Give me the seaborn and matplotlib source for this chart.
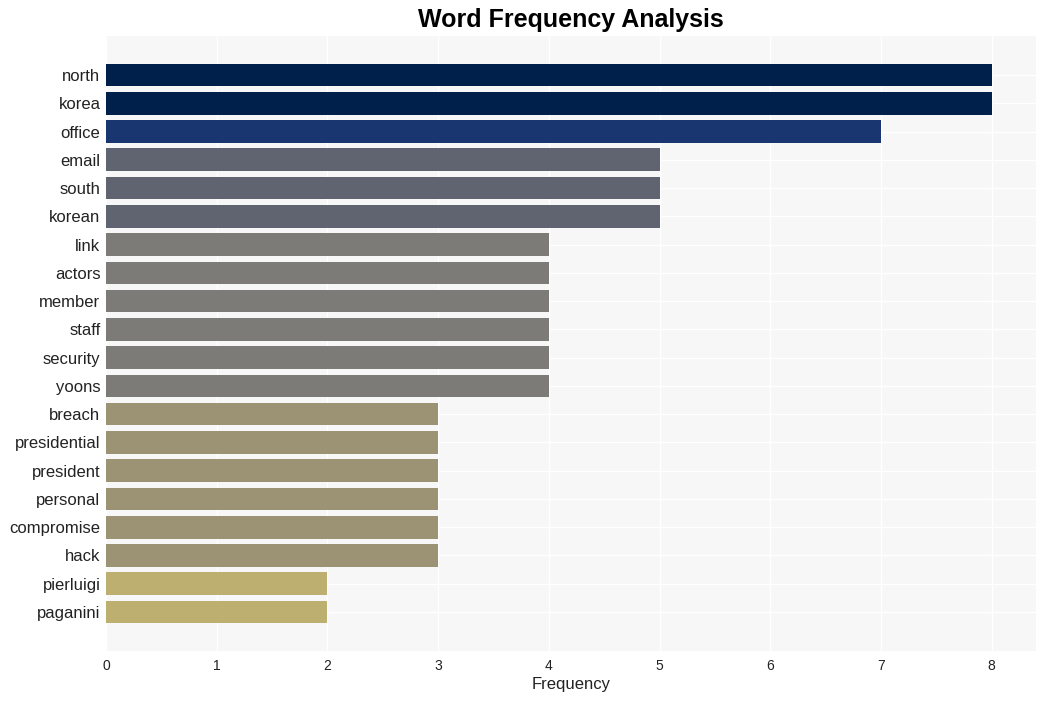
import matplotlib
matplotlib.use("Agg")
import matplotlib.pyplot as plt
import seaborn as sns
import pandas as pd

words = ["north", "korea", "office", "email", "south", "korean", "link", "actors",
         "member", "staff", "security", "yoons", "breach", "presidential", "president",
         "personal", "compromise", "hack", "pierluigi", "paganini"]
counts = [8, 8, 7, 5, 5, 5, 4, 4, 4, 4, 4, 4, 3, 3, 3, 3, 3, 3, 2, 2]

palette = {8: "#00204c", 7: "#1a3670", 5: "#5f6470", 4: "#7c7b78", 3: "#9b9374", 2: "#bcaf6f"}

df = pd.DataFrame({"word": words, "count": counts})

sns.set_theme(style="whitegrid")
plt.rcParams["font.family"] = ["Liberation Sans", "DejaVu Sans"]

fig = plt.figure(figsize=(10.45, 7.01), dpi=100)
ax = fig.add_axes([106/1045, 50/701, 930/1045, 615/701])
ax.set_facecolor("#f7f7f7")

sns.barplot(data=df, x="count", y="word", hue="count", palette=palette,
            dodge=False, legend=False, width=0.8, ax=ax, saturation=1,
            linewidth=0, edgecolor="none")

ax.set_xlim(0, 8.4)
ax.set_ylim(19 + 1.38, -1.38)
ax.set_xticks(range(0, 9))
ax.grid(True, color="white", linewidth=1)
ax.set_axisbelow(True)
for s in ax.spines.values():
    s.set_visible(False)
ax.tick_params(axis="y", labelsize=12, length=0, pad=4, labelcolor="#222222")
ax.tick_params(axis="x", labelsize=10, length=0, pad=6, labelcolor="#222222")
ax.set_ylabel("")
ax.set_xlabel("Frequency", fontsize=12, color="#222222", labelpad=3)
fig.text(571/1045, 1 - 20/701, "Word Frequency Analysis", fontsize=18,
         fontweight="bold", color="black", ha="center", va="center")

fig.savefig("out.png", dpi=100)
